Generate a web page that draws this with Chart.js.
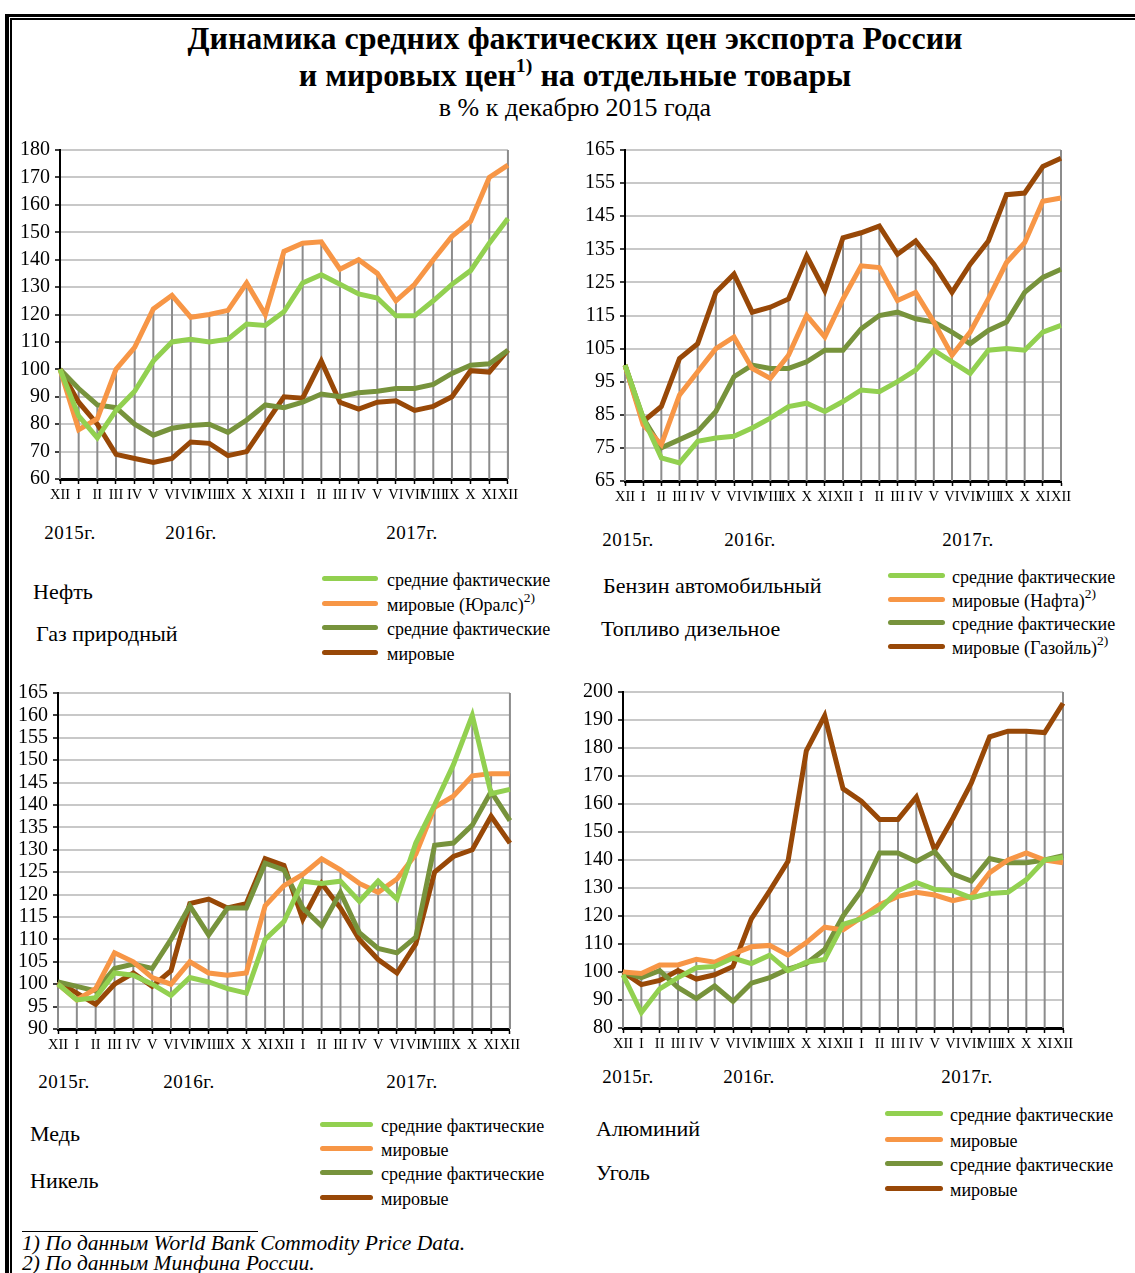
<!DOCTYPE html>
<html lang="ru">
<head>
<meta charset="utf-8">
<script src="https://cdn.jsdelivr.net/npm/chart.js@4"></script>
<style>
  body { margin: 0; background: #fff; font-family: 'Liberation Serif', 'Times New Roman', serif; color: #000; }
  #page { position: relative; width: 1135px; height: 1273px; overflow: hidden; }
  .abs { position: absolute; white-space: nowrap; }
  .title { left: 0; width: 1150px; text-align: center; font-weight: bold; font-size: 32px; line-height: 36px; }
  .sub { left: 0; width: 1150px; text-align: center; font-size: 26px; line-height: 28px; }
  .year { font-size: 19px; line-height: 20px; letter-spacing: 0.5px; transform: translateX(-50%); }
  .prod { font-size: 22px; line-height: 24px; }
  .leg { font-size: 18px; line-height: 20px; }
  .leg sup { font-size: 75%; }
  .swatch { position: absolute; height: 5px; border-radius: 3px; }
  .note { font-style: italic; font-size: 21.5px; line-height: 21px; left: 22px; }
  sup { font-size: 62%; line-height: 0; vertical-align: 0.7em; }
  canvas { position: absolute; }
</style>
</head>
<body>
<div id="page">
  <div class="abs" style="left:5px;top:14px;width:4px;height:1259px;background:#000"></div>
  <div class="abs" style="left:10px;top:18px;width:1.5px;height:1255px;background:#000"></div>
  <div class="abs" style="left:5px;top:14px;width:1130px;height:3px;background:#000"></div>
  <div class="abs" style="left:10px;top:18px;width:1125px;height:1.5px;background:#000"></div>

  <div class="abs title" style="top:20px">Динамика средних фактических цен экспорта России</div>
  <div class="abs title" style="top:57px">и мировых цен<sup>1)</sup> на отдельные товары</div>
  <div class="abs sub" style="top:94px">в % к декабрю 2015 года</div>

  <canvas id="c1" width="512" height="375" style="left:8px;top:133px"></canvas>
  <canvas id="c2" width="505" height="377" style="left:570px;top:133px"></canvas>
  <canvas id="c3" width="514" height="382" style="left:8px;top:676px"></canvas>
  <canvas id="c4" width="507" height="382" style="left:570px;top:675px"></canvas>

  <div class="abs" style="left:22px;top:1231px;width:236px;height:1px;background:#000"></div>
  <div class="abs note" style="top:1233px">1) По данным World Bank Commodity Price Data.</div>
  <div class="abs note" style="top:1253px">2) По данным Минфина России.</div>
</div>

<script>
// months: Dec 2015 .. Dec 2017
const months = ['XII', 'I', 'II', 'III', 'IV', 'V', 'VI', 'VII', 'VIII', 'IX', 'X', 'XI',
                'XII', 'I', 'II', 'III', 'IV', 'V', 'VI', 'VII', 'VIII', 'IX', 'X', 'XI', 'XII'];
const yearLabels = ['2015г.', '2016г.', '2017г.'];

// Нефть / Газ природный
const oilAvg   = [100, 83, 75, 85, 92, 103, 110, 111, 110, 111, 116.5, 116, 121, 131.5, 134.5, 131, 127.5, 126, 119.5, 119.5, 125, 131, 136, 146, 155];
const oilWorld = [100, 78, 82, 100, 108, 122, 127, 119, 120, 121.5, 131.5, 120, 143, 146, 146.5, 136.5, 140, 135, 125, 131, 140, 148.5, 154, 170, 174.5];
const gasAvg   = [100, 93, 87, 86, 80, 76, 78.5, 79.5, 80, 77, 81.5, 87, 86, 88, 91, 90, 91.5, 92, 93, 93, 94.5, 98.5, 101.5, 102, 107];
const gasWorld = [100, 88, 80, 69, 67.5, 66, 67.5, 73.5, 73, 68.5, 70, 80, 90, 89.5, 103, 88, 85.5, 88, 88.5, 85, 86.5, 90, 99.5, 99, 107];

// Бензин автомобильный / Топливо дизельное
const petrolAvg   = [100, 84, 72, 70.5, 77, 78, 78.5, 81, 84, 87.5, 88.5, 86, 89, 92.5, 92, 95, 98.5, 104.5, 101, 97.5, 104.5, 105, 104.5, 110, 112];
const petrolWorld = [100, 82, 76, 91, 98, 105, 108.5, 99, 96, 103, 115, 108.5, 120, 130, 129.5, 119.5, 122, 113, 103, 110, 120, 131, 137, 149.5, 150.5];
const dieselAvg   = [100, 84, 75, 77.5, 80, 86, 96.5, 100, 99, 99, 101, 104.5, 104.5, 111, 115, 116, 114, 113, 110, 106.5, 110.5, 113, 122, 126.5, 129];
const dieselWorld = [100, 83, 87.5, 102, 106.5, 122, 127.5, 116, 117.5, 120, 133, 122.5, 138.5, 140, 142, 133.5, 137.5, 130.5, 122, 130.5, 137.5, 151.5, 152, 160, 162.5];

// Медь / Никель
const copperAvg   = [100, 96.5, 97, 102.5, 102, 100, 97.5, 101.5, 100.5, 99, 98, 110, 114, 123, 122.5, 123, 118.5, 123, 119, 131.5, 140, 149, 160, 142.5, 143.5];
const copperWorld = [100, 96.5, 99, 107, 105, 101.5, 100, 105, 102.5, 102, 102.5, 117.5, 122, 124.5, 128, 125.5, 122.5, 120.5, 123.5, 129, 139.5, 142, 146.5, 147, 147];
const nickelAvg   = [100.5, 99.5, 98.5, 103.5, 104.5, 103.5, 110, 117.5, 111, 117, 117, 127, 125.5, 117, 113, 120.5, 111.5, 108, 107, 110.5, 131, 131.5, 135.5, 143, 136.5];
const nickelWorld = [100.5, 98, 95.5, 100, 102.5, 99.5, 103, 118, 119, 117, 118, 128, 126.5, 114.5, 122.5, 117, 110, 105.5, 102.5, 109, 125, 128.5, 130, 137.5, 131.5];

// Алюминий / Уголь
const aluAvg    = [99, 85.5, 94, 98, 101.5, 102, 105, 103, 106, 100.5, 103.5, 104.5, 117, 119, 122.5, 129, 132, 129.5, 129, 126.5, 128, 128.5, 133, 140, 141];
const aluWorld  = [100, 99.5, 102.5, 102.5, 104.5, 103.5, 106.5, 109, 109.5, 106, 110.5, 116, 115, 119.5, 124, 127, 128.5, 127.5, 125.5, 127, 135.5, 140, 142.5, 140, 139];
const coalAvg   = [100, 98, 100.5, 94.5, 90.5, 95, 89.5, 96, 98, 101, 103, 108, 120, 129, 142.5, 142.5, 139.5, 143, 135, 132.5, 140.5, 139, 139, 140, 141.5];
const coalWorld = [100, 95.5, 97, 100.5, 97.5, 99, 102, 119, 129, 139.5, 179, 191.5, 165.5, 161, 154.5, 154.5, 162.5, 143.5, 155, 167.5, 184, 186, 186, 185.5, 196];

const seriesColors = ['#92d050', '#f79646', '#77933c', '#984807'];

const panels = [
  { canvas: 'c1', yWidth: 52, padRight: 12, min: 60, max: 180, step: 10,
    data: [oilAvg, oilWorld, gasAvg, gasWorld],
    names: ['средние фактические', 'мировые (Юралс)<sup>2)</sup>', 'средние фактические', 'мировые'],
    products: [['Нефть', 33, 580], ['Газ природный', 36, 622]],
    legend: { x: 322, y: [578, 603, 627, 652], w: 56, tx: 387 },
    years: { y: 523, x: [70, 191, 412] } },
  { canvas: 'c2', yWidth: 55, padRight: 14, min: 65, max: 165, step: 10,
    data: [petrolAvg, petrolWorld, dieselAvg, dieselWorld],
    names: ['средние фактические', 'мировые (Нафта)<sup>2)</sup>', 'средние фактические', 'мировые (Газойль)<sup>2)</sup>'],
    products: [['Бензин автомобильный', 603, 574], ['Топливо дизельное', 601, 617]],
    legend: { x: 888, y: [575, 599, 622, 646], w: 57, tx: 952 },
    years: { y: 530, x: [628, 750, 968] } },
  { canvas: 'c3', yWidth: 50, padRight: 12, min: 90, max: 165, step: 5,
    data: [copperAvg, copperWorld, nickelAvg, nickelWorld],
    names: ['средние фактические', 'мировые', 'средние фактические', 'мировые'],
    products: [['Медь', 30, 1122], ['Никель', 30, 1169]],
    legend: { x: 320, y: [1124, 1148, 1172, 1197], w: 53, tx: 381 },
    years: { y: 1072, x: [64, 189, 412] } },
  { canvas: 'c4', yWidth: 53, padRight: 14, min: 80, max: 200, step: 10,
    data: [aluAvg, aluWorld, coalAvg, coalWorld],
    names: ['средние фактические', 'мировые', 'средние фактические', 'мировые'],
    products: [['Алюминий', 596, 1117], ['Уголь', 596, 1161]],
    legend: { x: 885, y: [1113, 1139, 1163, 1188], w: 58, tx: 950 },
    years: { y: 1067, x: [628, 749, 967] } }
];

// vertical drop lines from the highest series value down to the axis, plus right border
const dropLines = {
  id: 'dropLines',
  beforeDatasetsDraw(chart) {
    const { ctx, chartArea, scales } = chart;
    ctx.save();
    ctx.strokeStyle = '#8c8c8c';
    ctx.lineWidth = 2;
    chart.data.labels.forEach((_, i) => {
      const top = Math.max(...chart.data.datasets.map(d => d.data[i]));
      const px = scales.x.getPixelForValue(i);
      ctx.beginPath();
      ctx.moveTo(px, chartArea.bottom);
      ctx.lineTo(px, scales.y.getPixelForValue(top));
      ctx.stroke();
    });
    ctx.beginPath();
    ctx.moveTo(chartArea.right, chartArea.top);
    ctx.lineTo(chartArea.right, chartArea.bottom);
    ctx.stroke();
    ctx.restore();
  }
};

const page = document.getElementById('page');

function addText(cls, html, left, top) {
  const el = document.createElement('div');
  el.className = 'abs ' + cls;
  el.innerHTML = html;
  el.style.left = left + 'px';
  el.style.top = top + 'px';
  page.appendChild(el);
}

panels.forEach(p => {
  const cv = document.getElementById(p.canvas);
  new Chart(cv.getContext('2d'), {
    type: 'line',
    data: {
      labels: months,
      datasets: p.data.map((d, i) => ({
        label: p.names[i].replace(/<[^>]+>/g, ''),
        data: d,
        borderColor: seriesColors[i],
        borderWidth: 5,
        pointRadius: 0,
        tension: 0,
        fill: false
      }))
    },
    options: {
      responsive: false,
      animation: false,
      layout: { padding: { top: 10, right: p.padRight, left: 0, bottom: 0 } },
      plugins: { legend: { display: false }, tooltip: { enabled: false } },
      scales: {
        x: {
          offset: false,
          afterFit: s => { s.height = 29; },
          grid: { drawOnChartArea: false, drawTicks: true, tickLength: 5, tickColor: '#000', tickWidth: 1.5 },
          border: { display: true, color: '#000', width: 3 },
          ticks: { autoSkip: false, maxRotation: 0, minRotation: 0, padding: 2, color: '#000',
                   font: { family: "'Liberation Serif'", size: 14.5 } }
        },
        y: {
          min: p.min, max: p.max,
          afterFit: s => { s.width = p.yWidth; },
          grid: { color: '#c8c8c8', lineWidth: 2, tickLength: 5, tickColor: '#000', tickWidth: 1.5 },
          border: { display: true, color: '#000', width: 2 },
          ticks: { stepSize: p.step, autoSkip: false, padding: 5, color: '#000',
                   font: { family: "'Liberation Serif'", size: 20 } }
        }
      }
    },
    plugins: [dropLines]
  });

  yearLabels.forEach((t, i) => addText('year', t, p.years.x[i], p.years.y));
  p.products.forEach(([t, x, y]) => addText('prod', t, x, y));
  p.names.forEach((n, i) => {
    const sw = document.createElement('div');
    sw.className = 'swatch';
    sw.style.left = p.legend.x + 'px';
    sw.style.top = (p.legend.y[i] - 2) + 'px';
    sw.style.width = p.legend.w + 'px';
    sw.style.background = seriesColors[i];
    page.appendChild(sw);
    addText('leg', n, p.legend.tx, p.legend.y[i] - 8);
  });
});
</script>
</body>
</html>
